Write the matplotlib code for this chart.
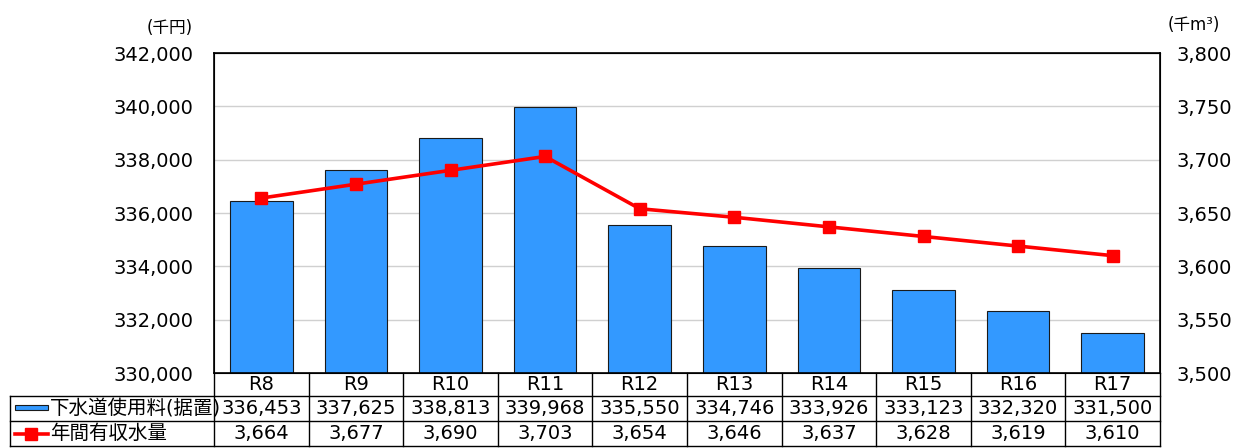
import numpy as np
import matplotlib.pyplot as plt
from matplotlib.patches import Rectangle
from matplotlib.lines import Line2D

plt.rcParams['font.family'] = ['DejaVu Sans', 'Noto Sans CJK JP']

# data
years = ['R8', 'R9', 'R10', 'R11', 'R12', 'R13', 'R14', 'R15', 'R16', 'R17']
fee = [336453, 337625, 338813, 339968, 335550, 334746, 333926, 333123, 332320, 331500]
volume = [3664, 3677, 3690, 3703, 3654, 3646, 3637, 3628, 3619, 3610]
fee_label = '下水道使用料(据置)'
volume_label = '年間有収水量'

bar_color = '#3399ff'
line_color = '#ff0000'
fs = 14

fig = plt.figure(figsize=(12.37, 4.48), dpi=100)
ax = fig.add_axes([214 / 1237, 75 / 448, 946 / 1237, 320 / 448])
x = np.arange(len(years))

ax.bar(x, fee, width=0.66, color=bar_color, edgecolor='#1a1a1a', linewidth=0.8, zorder=2)
ax.set_ylim(330000, 342000)
ax.set_yticks(np.arange(330000, 342001, 2000))
ax.set_yticklabels([f'{v:,}' for v in np.arange(330000, 342001, 2000)], fontsize=fs)
ax.set_xlim(-0.5, len(years) - 0.5)
ax.set_xticks([])
ax.grid(axis='y', color='#d0d0d0', linewidth=1, zorder=0)
ax.tick_params(axis='y', length=0, pad=15)
for s in ax.spines.values():
    s.set_linewidth(1.2)

ax2 = ax.twinx()
ax2.plot(x, volume, color=line_color, linewidth=2.6, marker='s', markersize=8, zorder=3)
ax2.set_ylim(3500, 3800)
ax2.set_yticks(np.arange(3500, 3801, 50))
ax2.set_yticklabels([f'{v:,}' for v in np.arange(3500, 3801, 50)], fontsize=fs)
ax2.tick_params(axis='y', length=0, pad=12)

ax.text(-0.022, 1.05, '(千円)', transform=ax.transAxes, ha='right', va='bottom', fontsize=12)
ax2.text(1.008, 1.06, '(千m³)', transform=ax.transAxes, ha='left', va='bottom', fontsize=12)

# data table below the axes
tr = ax.get_xaxis_transform()
unit = 946 / len(years)  # pixels per category
h_head = 23 / 320
h_row = 25 / 320
y0 = 0
y1 = -h_head
y2 = y1 - h_row
y3 = y2 - h_row
left = -0.5 - 204 / unit  # left edge of the label column in data units
lw = 1.0
kw = dict(color='black', linewidth=lw, transform=tr, clip_on=False)

ax.plot([left, len(years) - 0.5], [y1, y1], **kw)
ax.plot([left, len(years) - 0.5], [y2, y2], **kw)
ax.plot([left, len(years) - 0.5], [y3, y3], **kw)
ax.plot([left, left], [y1, y3], **kw)
for i in range(len(years) + 1):
    ax.plot([i - 0.5, i - 0.5], [y0, y3], **kw)

for i, yr in enumerate(years):
    ax.text(i, (y0 + y1) / 2, yr, transform=tr, ha='center', va='center', fontsize=fs)
    ax.text(i, (y1 + y2) / 2, f'{fee[i]:,}', transform=tr, ha='center', va='center', fontsize=fs)
    ax.text(i, (y2 + y3) / 2, f'{volume[i]:,}', transform=tr, ha='center', va='center', fontsize=fs)

# legend keys in the row labels
k0 = left + 5 / unit
k1 = left + 38 / unit
ax.add_patch(Rectangle((k0, (y1 + y2) / 2 - 0.004), k1 - k0, 0.016, transform=tr,
                       facecolor=bar_color, edgecolor='#1a1a1a', linewidth=0.8, clip_on=False))
ax.add_line(Line2D([k0, k1], [(y2 + y3) / 2] * 2, transform=tr,
                   color=line_color, linewidth=2.6, clip_on=False))
ax.add_line(Line2D([(k0 + k1) / 2], [(y2 + y3) / 2], transform=tr, color=line_color,
                   marker='s', markersize=8, linestyle='none', clip_on=False))
ax.text(left + 40 / unit, (y1 + y2) / 2, fee_label, transform=tr, ha='left', va='center', fontsize=fs)
ax.text(left + 40 / unit, (y2 + y3) / 2, volume_label, transform=tr, ha='left', va='center', fontsize=fs)

fig.savefig('out.png', dpi=100)
